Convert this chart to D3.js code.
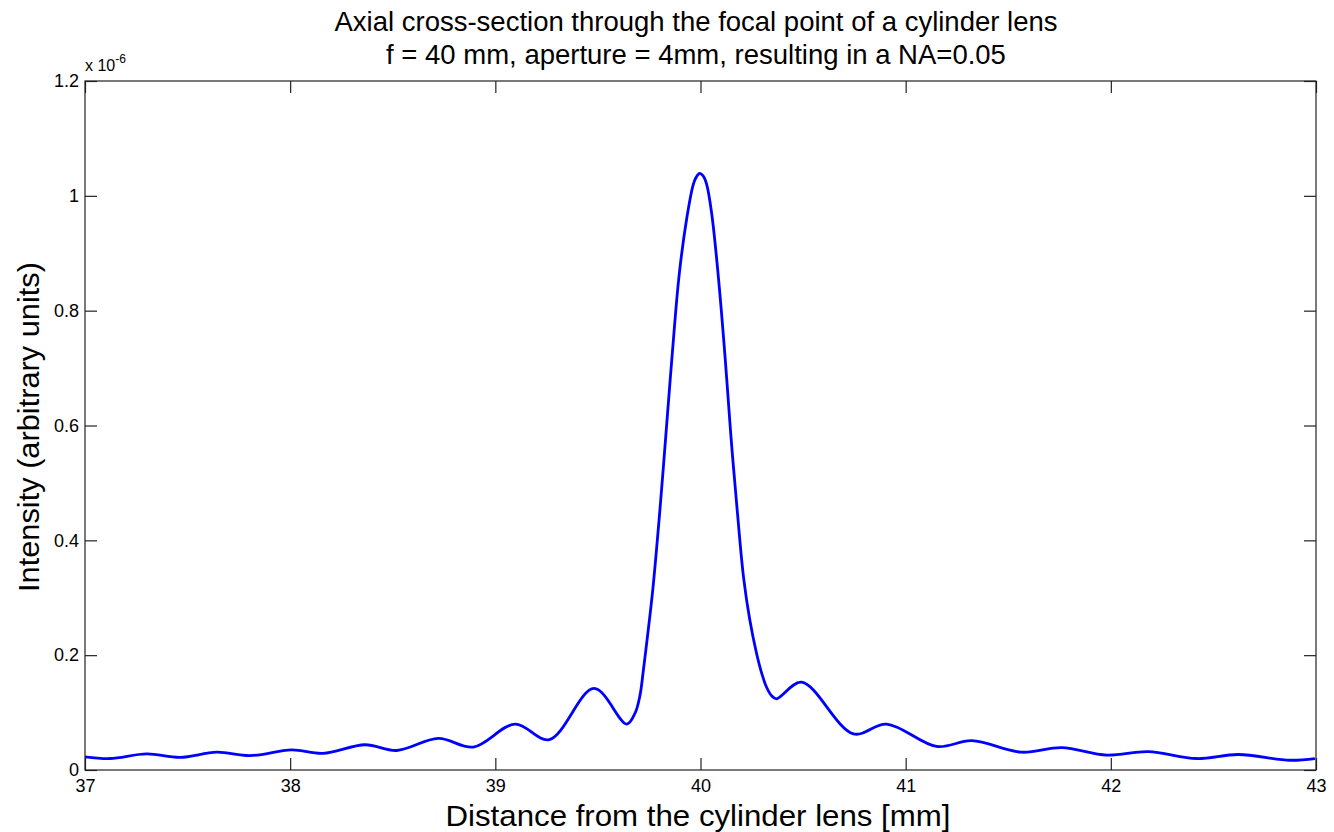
<!DOCTYPE html>
<html>
<head>
<meta charset="utf-8">
<script src="https://cdn.jsdelivr.net/npm/d3@7/dist/d3.min.js"></script>
<style>
  html, body { margin: 0; padding: 0; background: #fff; }
  svg { display: block; }
  text { font-family: Arial, "Liberation Sans", Helvetica, sans-serif; fill: #000; }
</style>
</head>
<body>
<svg id="chart" width="1334" height="832"></svg>
<script>
// Axial distance from the lens (mm)
const distanceMm = [
  37.000, 37.122, 37.301, 37.463, 37.642, 37.804, 38.007, 38.160, 38.365,
  38.519, 38.722, 38.893, 39.096, 39.263, 39.481, 39.640, 39.681, 39.705,
  39.722, 39.740, 39.768, 39.802, 39.832, 39.862, 39.895, 39.933, 39.965,
  39.980, 39.996, 40.012, 40.030, 40.055, 40.087, 40.119, 40.147, 40.179,
  40.210, 40.240, 40.272, 40.297, 40.321, 40.345, 40.370, 40.493, 40.745,
  40.907, 41.151, 41.322, 41.565, 41.760, 41.980, 42.182, 42.418, 42.621,
  42.873, 42.995
];
// Intensity, in units of 1e-6 (arbitrary)
const intensity = [
  0.023, 0.020, 0.028, 0.022, 0.031, 0.025, 0.035, 0.029, 0.044,
  0.034, 0.055, 0.040, 0.080, 0.053, 0.142, 0.080, 0.099, 0.130,
  0.175, 0.228, 0.316, 0.452, 0.587, 0.723, 0.859, 0.961, 1.020,
  1.033, 1.039, 1.035, 1.020, 0.968, 0.859, 0.723, 0.587, 0.452,
  0.335, 0.262, 0.205, 0.170, 0.145, 0.130, 0.124, 0.153, 0.063,
  0.080, 0.041, 0.051, 0.031, 0.039, 0.026, 0.032, 0.020, 0.027,
  0.017, 0.020
];
const xTicks = [37, 38, 39, 40, 41, 42, 43];
const yTicks = [0, 0.2, 0.4, 0.6, 0.8, 1, 1.2];
const titleLines = [
  "Axial cross-section through the focal point of a cylinder lens",
  "f = 40 mm, aperture = 4mm, resulting in a NA=0.05"
];
const xLabel = "Distance from the cylinder lens [mm]";
const yLabel = "Intensity (arbitrary units)";

const svg = d3.select("#chart");
const box = { left: 85, right: 1316, top: 81, bottom: 770 };
const x = d3.scaleLinear().domain([37, 43]).range([box.left, box.right]);
const y = d3.scaleLinear().domain([0, 1.2]).range([box.bottom, box.top]);
const tickLen = 12;
const axisColor = "#222";

// Curve
const points = distanceMm.map((d, i) => [d, intensity[i]]);
const line = d3.line()
  .x(d => x(d[0]))
  .y(d => y(d[1]))
  .curve(d3.curveCatmullRom.alpha(0.5));
svg.append("path")
  .attr("d", line(points))
  .attr("fill", "none")
  .attr("stroke", "#0000ff")
  .attr("stroke-width", 2.8)
  .attr("stroke-linejoin", "round");

// Axes with inward ticks on all four sides
const axisBottomG = svg.append("g").attr("transform", `translate(0,${box.bottom})`)
  .call(d3.axisBottom(x).tickValues(xTicks).tickSizeInner(-tickLen).tickSizeOuter(0).tickPadding(9).tickFormat(d3.format("d")));
const axisTopG = svg.append("g").attr("transform", `translate(0,${box.top})`)
  .call(d3.axisTop(x).tickValues(xTicks).tickSizeInner(-tickLen).tickSizeOuter(0).tickFormat(""));
const axisLeftG = svg.append("g").attr("transform", `translate(${box.left},0)`)
  .call(d3.axisLeft(y).tickValues(yTicks).tickSizeInner(-tickLen).tickSizeOuter(0).tickPadding(6).tickFormat(d => d3.format("~g")(d)));
const axisRightG = svg.append("g").attr("transform", `translate(${box.right},0)`)
  .call(d3.axisRight(y).tickValues(yTicks).tickSizeInner(-tickLen).tickSizeOuter(0).tickFormat(""));

[axisBottomG, axisTopG, axisLeftG, axisRightG].forEach(g => {
  g.select(".domain").remove();
  g.selectAll(".tick line").attr("stroke", axisColor).attr("stroke-width", 1.2);
  g.selectAll(".tick text")
    .attr("fill", "#2a2a2a")
    .style("font-family", "Arial, 'Liberation Sans', Helvetica, sans-serif")
    .style("font-size", "18px");
});

// Frame
svg.append("rect")
  .attr("x", box.left).attr("y", box.top)
  .attr("width", box.right - box.left).attr("height", box.bottom - box.top)
  .attr("fill", "none").attr("stroke", axisColor).attr("stroke-width", 1.2);

// Exponent marker
const expo = svg.append("text").attr("x", box.left).attr("y", 71)
  .style("font-size", "16px").attr("fill", "#2a2a2a");
expo.append("tspan").text("x 10");
expo.append("tspan").attr("dy", -8).style("font-size", "12px").text("-6");

// Title
svg.selectAll("text.title").data(titleLines).enter().append("text")
  .attr("class", "title")
  .attr("x", 696)
  .attr("y", (d, i) => 31 + i * 33)
  .attr("text-anchor", "middle")
  .style("font-size", "27.5px")
  .text(d => d);

// Axis labels
svg.append("text")
  .attr("x", 698)
  .attr("y", 826)
  .attr("text-anchor", "middle")
  .style("font-size", "30px")
  .attr("textLength", 505)
  .attr("lengthAdjust", "spacingAndGlyphs")
  .text(xLabel);
svg.append("text")
  .attr("transform", `translate(39,427) rotate(-90)`)
  .attr("text-anchor", "middle")
  .style("font-size", "30px")
  .attr("textLength", 330)
  .attr("lengthAdjust", "spacingAndGlyphs")
  .text(yLabel);
</script>
</body>
</html>
